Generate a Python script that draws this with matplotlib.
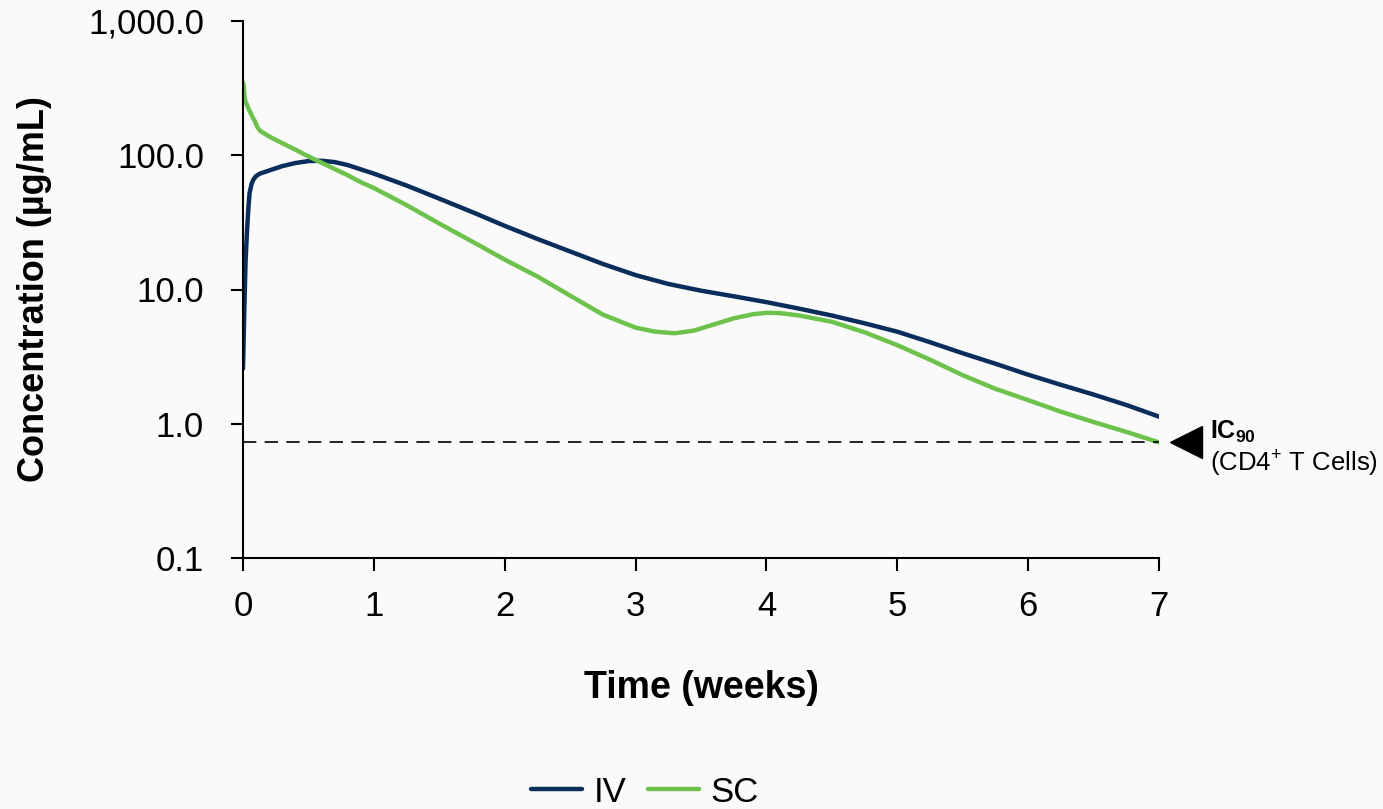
import matplotlib
matplotlib.use("Agg")
import matplotlib.pyplot as plt

plt.rcParams['font.family'] = ['Liberation Sans', 'DejaVu Sans']
plt.rcParams['mathtext.fontset'] = 'custom'
plt.rcParams['mathtext.rm'] = 'Liberation Sans'
plt.rcParams['mathtext.bf'] = 'Liberation Sans:bold'

# data (weeks, µg/mL)
iv_weeks = [0, 0.01, 0.02, 0.03, 0.04, 0.05, 0.065, 0.08, 0.1, 0.13, 0.2, 0.3,
            0.4, 0.5, 0.6, 0.7, 0.8, 0.9, 1.0, 1.25, 1.5, 1.75, 2.0, 2.25,
            2.5, 2.75, 3.0, 3.25, 3.5, 3.75, 4.0, 4.25, 4.5, 4.75, 5.0, 5.25,
            5.5, 5.75, 6.0, 6.25, 6.5, 6.75, 7.0]
iv_conc = [2.57, 7, 16.7, 26.5, 39, 52, 61, 66, 70, 73, 77, 83,
           87.5, 90.5, 91, 89, 84.5, 78.5, 73, 59.5, 47.5, 37.8, 29.8, 23.8,
           19.2, 15.5, 12.8, 11.0, 9.8, 8.9, 8.05, 7.2, 6.4, 5.6, 4.85, 4.05,
           3.35, 2.8, 2.32, 1.95, 1.65, 1.38, 1.13]

sc_weeks = [0, 0.005, 0.01, 0.015, 0.02, 0.03, 0.04, 0.053, 0.07, 0.092, 0.11,
            0.13, 0.2, 0.3, 0.4, 0.5, 0.6, 0.7, 0.8, 0.9, 1.0, 1.25, 1.5,
            1.75, 2.0, 2.25, 2.5, 2.75, 3.0, 3.15, 3.3, 3.45, 3.6, 3.75, 3.9,
            4.0, 4.1, 4.25, 4.5, 4.75, 5.0, 5.25, 5.5, 5.75, 6.0, 6.25, 6.5,
            6.75, 7.0]
sc_conc = [347, 330, 290, 262, 250, 238, 225, 212, 195, 178, 162,
           152, 138, 123, 110, 98, 88, 79, 71, 63, 57, 42.5, 31,
           22.8, 16.7, 12.5, 9.0, 6.5, 5.2, 4.85, 4.72, 4.95, 5.5, 6.1, 6.55,
           6.7, 6.68, 6.4, 5.75, 4.8, 3.85, 3.0, 2.3, 1.82, 1.5, 1.23, 1.03,
           0.87, 0.726]

ic90 = 0.73
x_ticks = [0, 1, 2, 3, 4, 5, 6, 7]
y_ticks = [0.1, 1, 10, 100, 1000]
y_labels = ['0.1', '1.0', '10.0', '100.0', '1,000.0']

navy = '#0b2d5b'
green = '#6cc24a'
bg = '#fafafa'

fig = plt.figure(figsize=(13.83, 8.09), dpi=100, facecolor=bg)
ax = fig.add_axes([243 / 1383, 1 - 558 / 809, (1159 - 243) / 1383, (558 - 21) / 809])
ax.set_facecolor(bg)

ax.plot(iv_weeks, iv_conc, color=navy, lw=3.2, label='IV', solid_capstyle='round',
        solid_joinstyle='round')
ax.plot(sc_weeks, sc_conc, color=green, lw=3.2, label='SC', solid_capstyle='round',
        solid_joinstyle='round')
ax.plot([0, 7], [ic90, ic90], color='black', lw=1.2, dashes=(8, 5))

# IC90 marker and label
ax.plot([7.21], [ic90], marker='<', ms=23, color='black', clip_on=False)
ax.annotate(r'IC$_{\mathbf{90}}$', xy=(7.39, ic90), xytext=(0, 7),
            textcoords='offset points', fontsize=18, fontweight='bold',
            ha='left', va='center', annotation_clip=False)
ax.annotate(r'(CD4$^{+}$ T Cells)', xy=(7.39, ic90), xytext=(0, -15),
            textcoords='offset points', fontsize=18.5,
            ha='left', va='center', annotation_clip=False)

ax.set_yscale('log')
ax.set_xlim(0, 7)
ax.set_ylim(0.1, 1000)
ax.set_xticks(x_ticks)
ax.set_yticks(y_ticks)
ax.set_yticklabels(y_labels)
ax.minorticks_off()

for s in ['top', 'right']:
    ax.spines[s].set_visible(False)
for s in ['left', 'bottom']:
    ax.spines[s].set_linewidth(1.5)
ax.tick_params(axis='both', direction='out', length=9, width=1.5, labelsize=25)
ax.tick_params(axis='x', pad=14)
ax.tick_params(axis='y', pad=19)

ax.set_xlabel('Time (weeks)', fontsize=27, fontweight='bold', labelpad=34)
ax.set_ylabel('Concentration (µg/mL)', fontsize=26, fontweight='bold', labelpad=26)

fig.legend(loc='center', bbox_to_anchor=(645 / 1383, 1 - 792 / 809), ncol=2,
           frameon=False, fontsize=25, handlelength=1.47, columnspacing=0.6,
           handletextpad=0.35)

fig.savefig('out.png', dpi=100, facecolor=bg)
